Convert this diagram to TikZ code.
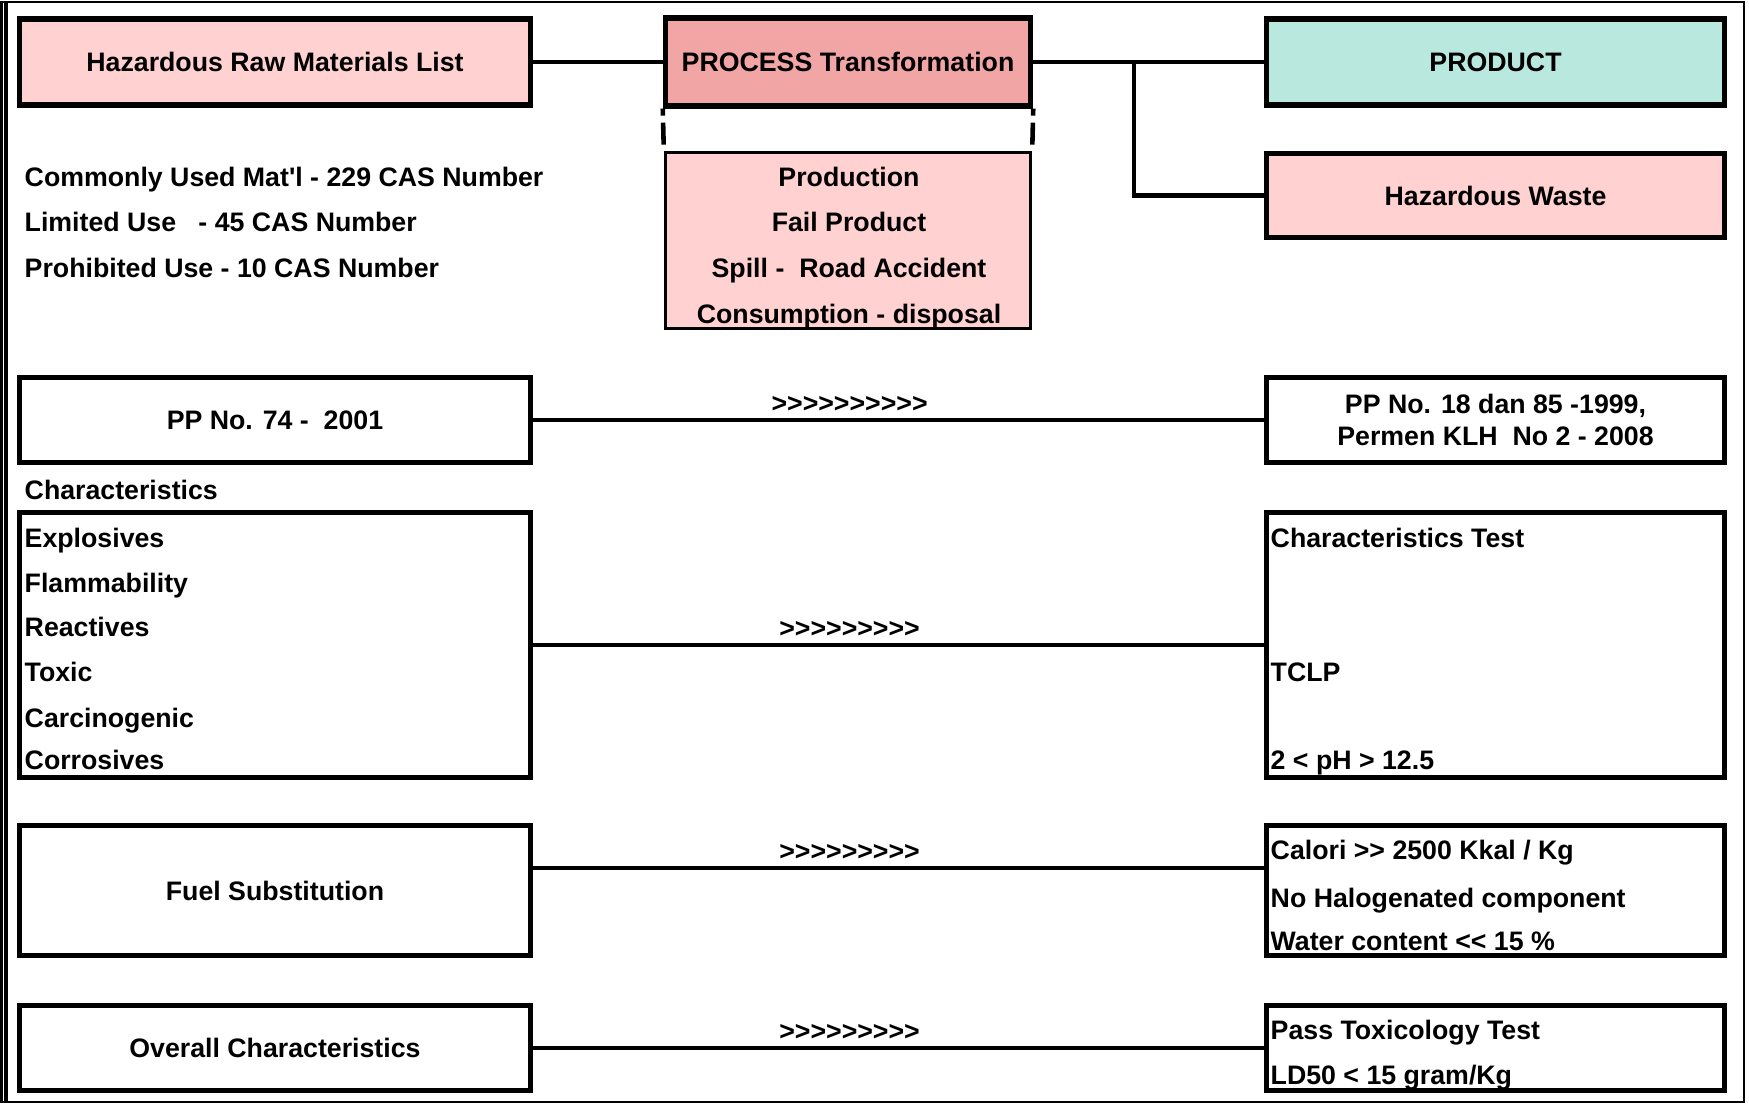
\documentclass[tikz,border=0pt]{standalone}
\usepackage{fontspec}
\setmainfont{Liberation Sans}[Ligatures=TeXOff]
\definecolor{rawpink}{RGB}{255,209,209}
\definecolor{procpink}{RGB}{242,165,165}
\definecolor{prodgreen}{RGB}{185,232,222}
\begin{document}
\begin{tikzpicture}[x=0.01cm, y=-0.01cm,
  txt/.style={font=\fontsize{7.6}{9.1}\selectfont\bfseries, inner sep=0pt},
  box/.style={txt, draw, line width=1.5pt, align=center},
  leftbox/.style={box, minimum width=5.11cm},
  rightbox/.style={box, minimum width=4.58cm},
  item/.style={txt, anchor=base west},
  citem/.style={txt, anchor=base},
  link/.style={line width=1.3pt},
  chev/.style={txt, pos=0.433, above=1.6pt}]
\useasboundingbox (0,0) rectangle (1749,1104);
%outer frame
\draw[line width=0.7pt] (1.5,2) -- (1744,2) -- (1744,1102) -- (1.5,1102) -- cycle;
\draw[line width=1.2pt] (6,2) -- (6,1102);

%top row
\node[leftbox, fill=rawpink, minimum height=0.86cm] (raw) at (275,62) {Hazardous Raw Materials List};
\node[box, fill=procpink, minimum width=3.65cm, minimum height=0.88cm] (proc) at (848,62) {PROCESS Transformation};
\node[rightbox, fill=prodgreen, minimum height=0.86cm] (product) at (1495.5,62) {PRODUCT};
\node[rightbox, fill=rawpink, minimum height=0.84cm] (waste) at (1495.5,195.5) {Hazardous Waste};
\node[draw, fill=rawpink, line width=0.9pt, minimum width=3.65cm, minimum height=1.76cm] (sub) at (848,240.5) {};

%connectors on top
\coordinate (split) at (1134,62);
\draw[link] (raw) -- (proc);
\draw[link] (proc) -- (product);
\draw[link] (split) |- (waste);
\draw[link, dash pattern=on 0.22cm off 0.07cm, dash phase=0.15cm] (proc.south west) -- (sub.north west);
\draw[link, dash pattern=on 0.22cm off 0.07cm, dash phase=0.15cm] (proc.south east) -- (sub.north east);

%raw material list
\node[item] (mat1) at (24,187) {Commonly Used Mat\textquotesingle l - 229 CAS Number};
\node[item] (mat2) at (24,231.5) {Limited Use\ \ \ - 45 CAS Number};
\node[item] (mat3) at (24,278) {Prohibited Use - 10 CAS Number};

%process sources
\node[citem] (src1) at (849,187) {Production};
\node[citem] (src2) at (849,231.5) {Fail Product};
\node[citem] (src3) at (849,278) {Spill -\ \ Road Accident};
\node[citem] (src4) at (849,324) {Consumption - disposal};

%regulation row
\node[leftbox, minimum height=0.85cm] (law) at (275,420) {PP No. 74 -\ \ 2001};
\node[rightbox, minimum height=0.85cm] (lawR) at (1495.5,420) {PP No. 18 dan 85 -1999,\\Permen KLH\ \ No 2 - 2008};
\draw[link] (law) -- node[chev] {>>>>>>>>>>} (lawR);

%characteristics row
\node[item] (charlabel) at (24,500) {Characteristics};
\node[leftbox, minimum height=2.65cm] (char) at (275,645) {};
\node[rightbox, minimum height=2.65cm] (charR) at (1495.5,645) {};
\draw[link] (char) -- node[chev] {>>>>>>>>>} (charR);
\node[item] (ch1) at (24,548) {Explosives};
\node[item] (ch2) at (24,593) {Flammability};
\node[item] (ch3) at (24,636.5) {Reactives};
\node[item] (ch4) at (24,682) {Toxic};
\node[item] (ch5) at (24,728) {Carcinogenic};
\node[item] (ch6) at (24,770) {Corrosives};
\node[item] (test1) at (1270,548) {Characteristics Test};
\node[item] (test2) at (1270,682) {TCLP};
\node[item] (test3) at (1270,770) {2 < pH > 12.5};

%fuel row
\node[leftbox, minimum height=1.30cm] (fuel) at (275,890.5) {Fuel Substitution};
\node[rightbox, minimum height=1.30cm] (fuelR) at (1495.5,890.5) {};
\draw[link] ([yshift=0.225cm]fuel.east) -- node[chev] {>>>>>>>>>} ([yshift=0.225cm]fuelR.west);
\node[item] (fu1) at (1270,859.5) {Calori >> 2500 Kkal / Kg};
\node[item] (fu2) at (1270,907.5) {No Halogenated component};
\node[item] (fu3) at (1270,950) {Water content << 15 \%};

%overall row
\node[leftbox, minimum height=0.85cm] (overall) at (275,1048) {Overall Characteristics};
\node[rightbox, minimum height=0.85cm] (overallR) at (1495.5,1048) {};
\draw[link] (overall) -- node[chev] {>>>>>>>>>} (overallR);
\node[item] (tox1) at (1270,1039) {Pass Toxicology Test};
\node[item] (tox2) at (1270,1084) {LD50 < 15 gram/Kg};
\end{tikzpicture}
\end{document}
